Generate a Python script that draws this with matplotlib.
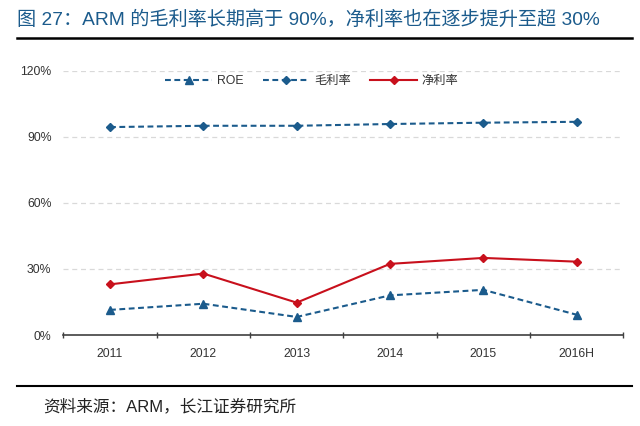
import matplotlib.pyplot as plt
from matplotlib.lines import Line2D

plt.rcParams['font.family'] = ['Liberation Sans', 'Noto Sans CJK SC', 'DejaVu Sans']

years = ["2011", "2012", "2013", "2014", "2015", "2016H"]
roe = [11.4, 14.2, 8.2, 18.0, 20.5, 9.2]
gross_margin = [94.4, 95.0, 95.0, 95.8, 96.4, 96.8]
net_margin = [23.0, 27.9, 14.7, 32.3, 35.0, 33.3]
yticks = [0, 30, 60, 90, 120]

BLUE = "#1b5b8c"
RED = "#c8101c"


def main():
    fig = plt.figure(figsize=(6.4, 4.26), dpi=100)
    ax = fig.add_axes([0.099, 0.2136, 0.875, 0.6204])

    x = list(range(len(years)))
    dash = (0, (2.8, 1.7))
    ax.plot(x, roe, color=BLUE, lw=1.5, ls=dash, marker="^", ms=5.5, label="ROE")
    ax.plot(x, gross_margin, color=BLUE, lw=1.5, ls=dash, marker="D", ms=4, label="毛利率")
    ax.plot(x, net_margin, color=RED, lw=1.5, marker="D", ms=4, label="净利率")

    ax.set_xlim(-0.5, len(years) - 0.5)
    ax.set_ylim(0, 120)
    ax.set_yticks(yticks)
    ax.set_yticklabels([f"{v}%" for v in yticks], fontsize=8.8, color="#333333")
    for v in yticks[1:]:
        ax.axhline(v, color="#d9d9d9", lw=0.9, ls=(0, (4, 3)), zorder=0)

    ax.set_xticks(x)
    ax.set_xticklabels(years, fontsize=8.8, color="#333333")
    ax.set_xticks([i - 0.5 for i in range(len(years) + 1)], minor=True)
    ax.tick_params(axis="x", which="major", length=0, pad=9)
    ax.tick_params(axis="x", which="minor", length=4, width=1, direction="inout", color="#404040")
    ax.tick_params(axis="y", length=0, pad=8.5)

    for s in ["top", "left", "right"]:
        ax.spines[s].set_visible(False)
    ax.spines["bottom"].set_color("#404040")
    ax.spines["bottom"].set_linewidth(1.2)

    ax.legend(loc="center", bbox_to_anchor=(0.4875, 0.81), bbox_transform=fig.transFigure,
              ncol=3, frameon=False, fontsize=8.8, handlelength=3.8, columnspacing=1.6,
              handletextpad=0.4, labelcolor="#333333")

    fig.text(0.027, 0.953, "图 27：ARM 的毛利率长期高于 90%，净利率也在逐步提升至超 30%",
             fontsize=13.8, color="#1b5b8c", va="center", ha="left")
    fig.add_artist(Line2D([0.027, 0.988], [0.91, 0.91], color="black", lw=1.8))
    fig.add_artist(Line2D([0.027, 0.988], [0.094, 0.094], color="black", lw=1.5))
    fig.text(0.067, 0.047, "资料来源：ARM，长江证券研究所", fontsize=12, color="#222222",
             va="center", ha="left")

    fig.savefig("out.png", dpi=100)


if __name__ == "__main__":
    main()
